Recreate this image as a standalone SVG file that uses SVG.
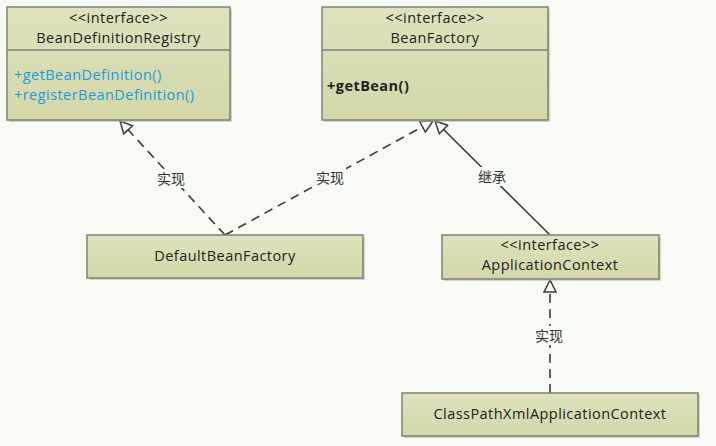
<svg xmlns="http://www.w3.org/2000/svg" width="716" height="446" viewBox="0 0 716 446">
<defs>
<linearGradient id="g" x1="0" y1="0" x2="0" y2="1">
<stop offset="0" stop-color="#dfe2bd"/>
<stop offset="1" stop-color="#d3d7a9"/>
</linearGradient>
<marker id="tri" viewBox="0 0 14 14" refX="13" refY="7" markerWidth="14" markerHeight="14" markerUnits="userSpaceOnUse" orient="auto">
<path d="M1,1 L13,7 L1,13 z" fill="#f8faf6" stroke="#3c3c3c" stroke-width="1.5" stroke-linejoin="miter"/>
</marker>
</defs>
<style>
.box{fill:url(#g);stroke:#7f8272;stroke-width:1.5}
.sh{fill:#b9bcb0;opacity:0.6}
.sep{stroke:#7f8272;stroke-width:1.5}
text{font-family:"Open Sans","Noto Sans","DejaVu Sans",sans-serif;font-size:14.5px;letter-spacing:0.45px;fill:#222}
.c{text-anchor:middle}
.m{fill:#1f9ad8}
.b{font-weight:bold}
.lbl{font-family:"Noto Sans CJK SC",sans-serif;font-size:14px;letter-spacing:0;fill:#333;text-anchor:middle}
.ln{fill:none;stroke:#3c3c3c;stroke-width:1.6}
.d{stroke-dasharray:9 6}
.lb{fill:#f8faf6}
</style>
<rect width="716" height="446" fill="#f8faf6"/>

<g id="connectors">
<path class="ln d" d="M225,235 L120,121" marker-end="url(#tri)"/>
<path class="ln d" d="M225,235 L433,121" marker-end="url(#tri)"/>
<path class="ln" d="M550,235 L435,121" marker-end="url(#tri)"/>
<path class="ln d" d="M550,393 L550,280" marker-end="url(#tri)"/>
<rect class="lb" x="155" y="169" width="32" height="19"/>
<text class="lbl" x="171" y="184">实现</text>
<rect class="lb" x="314" y="168" width="32" height="19"/>
<text class="lbl" x="330" y="183">实现</text>
<rect class="lb" x="476" y="167" width="32" height="19"/>
<text class="lbl" x="492" y="182">继承</text>
<rect class="lb" x="533" y="326" width="32" height="19"/>
<text class="lbl" x="549" y="341">实现</text>
</g>

<g id="BeanDefinitionRegistry">
<rect class="sh" x="9" y="9" width="223" height="113"/>
<rect class="box" x="7" y="7" width="223" height="113"/>
<line class="sep" x1="7" y1="50" x2="230" y2="50"/>
<text class="c" x="118.5" y="23">&lt;&lt;interface&gt;&gt;</text>
<text class="c" x="118.5" y="43">BeanDefinitionRegistry</text>
<text class="m" x="14" y="80">+getBeanDefinition()</text>
<text class="m" x="14" y="100">+registerBeanDefinition()</text>
</g>

<g id="BeanFactory">
<rect class="sh" x="324" y="9" width="226" height="113"/>
<rect class="box" x="322" y="7" width="226" height="113"/>
<line class="sep" x1="322" y1="50" x2="548" y2="50"/>
<text class="c" x="435" y="23">&lt;&lt;interface&gt;&gt;</text>
<text class="c" x="435" y="43">BeanFactory</text>
<text class="b" x="327" y="91">+getBean()</text>
</g>

<g id="DefaultBeanFactory">
<rect class="sh" x="89" y="237" width="276" height="43"/>
<rect class="box" x="87" y="235" width="276" height="43"/>
<text class="c" x="225" y="261">DefaultBeanFactory</text>
</g>

<g id="ApplicationContext">
<rect class="sh" x="444" y="237" width="217" height="44"/>
<rect class="box" x="442" y="235" width="217" height="44"/>
<text class="c" x="550" y="250">&lt;&lt;interface&gt;&gt;</text>
<text class="c" x="550" y="270">ApplicationContext</text>
</g>

<g id="ClassPathXmlApplicationContext">
<rect class="sh" x="404" y="395" width="296" height="43"/>
<rect class="box" x="402" y="393" width="296" height="43"/>
<text class="c" x="550" y="419">ClassPathXmlApplicationContext</text>
</g>
</svg>
